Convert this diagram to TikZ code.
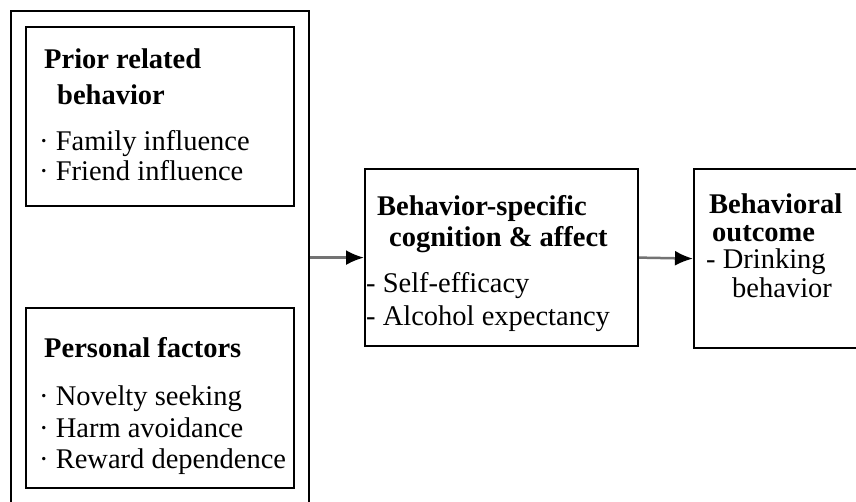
\documentclass[tikz,border=0pt]{standalone}
\usepackage{fontspec}
\setmainfont{Liberation Serif}
\usetikzlibrary{arrows.meta}
\begin{document}
\begin{tikzpicture}[x=1pt,y=-1pt,
  box/.style={draw=black, line width=2.2pt, fill=white, inner sep=0pt, anchor=north west},
  head/.style={inner sep=0pt, anchor=base west, font=\fontsize{28.5}{30}\selectfont\bfseries},
  item/.style={inner sep=0pt, anchor=base west, font=\fontsize{28.5}{30}\selectfont},
  link/.style={draw=black!55, line width=2.5pt, -{Latex[black,length=18pt,width=15pt]}}]
\useasboundingbox[fill=white] (0,0) rectangle (856,501);
\clip (0,0) rectangle (856,501);
% boxes
\node[box, minimum width=298pt, minimum height=520pt] (outer) at (10,10) {};
\node[box, minimum width=268pt, minimum height=179pt] (prior) at (25,26) {};
\node[box, minimum width=268pt, minimum height=180pt] (personal) at (25,307) {};
\node[box, minimum width=273pt, minimum height=177pt] (mid) at (364,168) {};
\node[box, minimum width=200pt, minimum height=179pt] (out) at (693,168) {};
% texts: prior related behavior
\node[head] (t1) at (44,68) {Prior related};
\node[head] (t2) at (57,104) {behavior};
\node[item] (t3) at (39,150) {· Family influence};
\node[item] (t4) at (39,180) {· Friend influence};
% personal factors
\node[head] (t5) at (44,357) {Personal factors};
\node[item] (t6) at (39,405) {· Novelty seeking};
\node[item] (t7) at (39,437) {· Harm avoidance};
\node[item] (t8) at (39,468) {· Reward dependence};
% middle
\node[head] (t9) at (377,215) {Behavior-specific};
\node[head] (t10) at (389,246) {cognition \& affect};
\node[item] (t11) at (366,292) {- Self-efficacy};
\node[item] (t12) at (366,325) {- Alcohol expectancy};
% outcome
\node[head] (t13) at (709,213) {Behavioral};
\node[head] (t14) at (712,241) {outcome};
\node[item] (t15) at (706,268) {- Drinking};
\node[item] (t16) at (732,297) {behavior};
% connectors
\draw[link] (outer.east |- mid.west) -- (mid.west);
\draw[link] (mid.east) -- (out.west);
\end{tikzpicture}
\end{document}
